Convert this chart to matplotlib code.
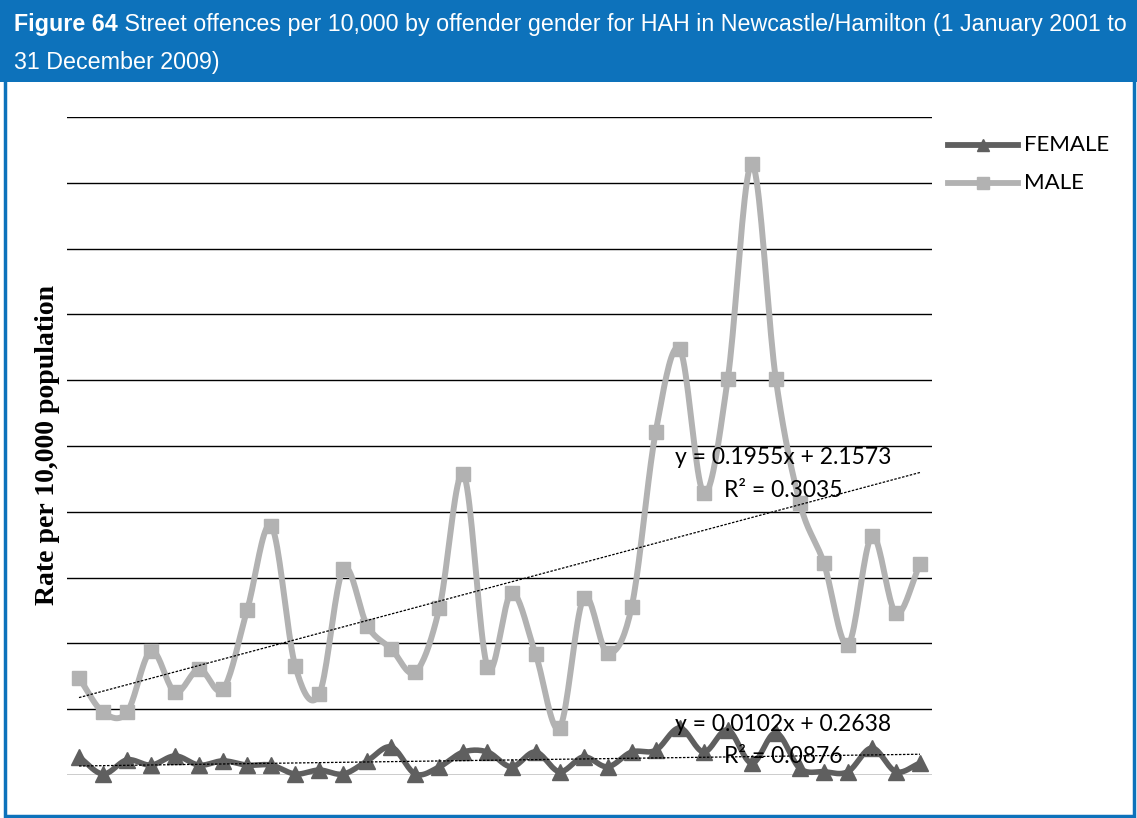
import numpy as np
import matplotlib
matplotlib.use('Agg')
import matplotlib.pyplot as plt
from matplotlib.patches import Rectangle

# Quarterly rates per 10,000 population, Q1 2001 to Q4 2009
trimestres = list(range(1, 37))
male = [2.95, 1.91, 1.91, 3.77, 2.52, 3.22, 2.61, 5.02, 7.57, 3.31, 2.46, 6.26,
        4.53, 3.83, 3.13, 5.08, 9.15, 3.28, 5.53, 3.68, 1.43, 5.38, 3.71, 5.11,
        10.43, 12.95, 8.57, 12.04, 18.57, 12.04, 8.27, 6.44, 3.95, 7.26, 4.92, 6.41]
female = [0.55, 0.03, 0.46, 0.30, 0.58, 0.30, 0.43, 0.30, 0.30, 0.03, 0.15, 0.03,
          0.43, 0.85, 0.03, 0.25, 0.70, 0.70, 0.25, 0.70, 0.10, 0.55, 0.25, 0.70,
          0.75, 1.43, 0.70, 1.37, 0.36, 1.28, 0.20, 0.10, 0.10, 0.82, 0.10, 0.36]

# Linear trend lines as printed on the chart
tendencia_male = (0.1955, 2.1573, 0.3035)
tendencia_female = (0.0102, 0.2638, 0.0876)

titulo_negrito = 'Figure 64'
titulo_resto = ' Street offences per 10,000 by offender gender for HAH in Newcastle/Hamilton (1 January 2001 to'
titulo_linha2 = '31 December 2009)'
rotulo_y = 'Rate per 10,000 population'

AZUL = '#0d72bb'
COR_MALE = '#b2b2b2'
COR_FEMALE = '#5f5f5f'
FONTE = ['Lato', 'DejaVu Sans']
FONTE_TITULO = ['Liberation Sans', 'DejaVu Sans']


def suavizar(x, y, passos=20):
    """Curva Catmull-Rom passando pelos pontos (como a linha suavizada do Excel)"""
    x = np.asarray(x, float)
    y = np.asarray(y, float)
    px = np.concatenate([[2 * x[0] - x[1]], x, [2 * x[-1] - x[-2]]])
    py = np.concatenate([[2 * y[0] - y[1]], y, [2 * y[-1] - y[-2]]])
    t = np.linspace(0, 1, passos, endpoint=False)
    xs, ys = [], []
    for i in range(1, len(px) - 2):
        for p, out in ((px, xs), (py, ys)):
            p0, p1, p2, p3 = p[i - 1], p[i], p[i + 1], p[i + 2]
            out.extend(0.5 * (2 * p1 + (-p0 + p2) * t + (2 * p0 - 5 * p1 + 4 * p2 - p3) * t ** 2
                              + (-p0 + 3 * p1 - 3 * p2 + p3) * t ** 3))
    xs.append(x[-1])
    ys.append(y[-1])
    return np.array(xs), np.array(ys)


fig = plt.figure(figsize=(11.37, 8.18), dpi=100)

# fundo em coordenadas de pixel: moldura, cabeçalho, legenda
fundo = fig.add_axes([0, 0, 1, 1], zorder=0)
fundo.set_xlim(0, 1137)
fundo.set_ylim(818, 0)
fundo.axis('off')
fundo.add_patch(Rectangle((5, 2), 1129, 814, facecolor='white', edgecolor=AZUL, linewidth=2.5))
fundo.add_patch(Rectangle((0, 0), 1137, 82, facecolor=AZUL, edgecolor='none'))

tam = 15.5
t1 = fundo.text(14, 31, titulo_negrito, color='white', fontsize=tam, fontweight='bold',
                family=FONTE_TITULO, va='baseline')
t2 = fundo.text(0, 31, titulo_resto, color='white', fontsize=tam, family=FONTE_TITULO, va='baseline')
fig.canvas.draw()
r = fig.canvas.get_renderer()
largura = t1.get_window_extent(r).width + t2.get_window_extent(r).width
tam = tam * 1108 / largura
t1.set_fontsize(tam)
t2.set_fontsize(tam)
fig.canvas.draw()
t2.set_x(14 + t1.get_window_extent(r).width)
fundo.text(14, 69, titulo_linha2, color='white', fontsize=tam, family=FONTE_TITULO, va='baseline')

for nome, cor, marca, y in (('FEMALE', COR_FEMALE, '^', 145), ('MALE', COR_MALE, 's', 183)):
    fundo.plot([948, 1018], [y, y], color=cor, linewidth=4.2)
    fundo.plot([983], [y], marker=marca, markersize=9, color=cor)
    fundo.text(1024, y, nome, fontsize=16, family=FONTE, va='center', ha='left')

fundo.text(48, 445, rotulo_y, rotation=90, fontsize=20, fontweight='bold',
           family=['Liberation Serif', 'DejaVu Serif'], ha='center', va='center')

ax = fig.add_axes([67 / 1137, 1 - 775 / 818, (932 - 67) / 1137, (775 - 117) / 818], zorder=1)
ax.set_facecolor('none')
ax.set_xlim(0.5, 36.5)
ax.set_ylim(0, 20)
for v in range(0, 21, 2):
    ax.axhline(v, color='black', linewidth=1.0, zorder=1)
for lado in ax.spines.values():
    lado.set_visible(False)
ax.set_xticks([])
ax.set_yticks([])

# linhas suavizadas
xs, ys = suavizar(trimestres, male)
ax.plot(xs, ys, color=COR_MALE, linewidth=4.3, zorder=3, clip_on=False, solid_capstyle='round')
ax.plot(trimestres, male, linestyle='none', marker='s', markersize=10.5, color=COR_MALE,
        zorder=4, clip_on=False)
xs, ys = suavizar(trimestres, female)
ax.plot(xs, ys, color=COR_FEMALE, linewidth=4.0, zorder=3, clip_on=False, solid_capstyle='round')
ax.plot(trimestres, female, linestyle='none', marker='^', markersize=12, color=COR_FEMALE,
        zorder=4, clip_on=False)

# linhas de tendência
xt = np.array([trimestres[0], trimestres[-1]])
for (a, b, r2), ypos in ((tendencia_male, 9.64), (tendencia_female, 1.55)):
    ax.plot(xt, a * xt + b, color='black', linestyle=(0, (2, 1.2)), linewidth=0.9, zorder=5)
    ax.text(30.3, ypos, f'y = {a:.4f}x + {b:.4f}', fontsize=16.5, family=FONTE,
            ha='center', va='center', zorder=6)
    ax.text(30.3, ypos - 0.98, f'R² = {r2:.4f}', fontsize=16.5, family=FONTE,
            ha='center', va='center', zorder=6)

fig.savefig('out.png', dpi=100)
